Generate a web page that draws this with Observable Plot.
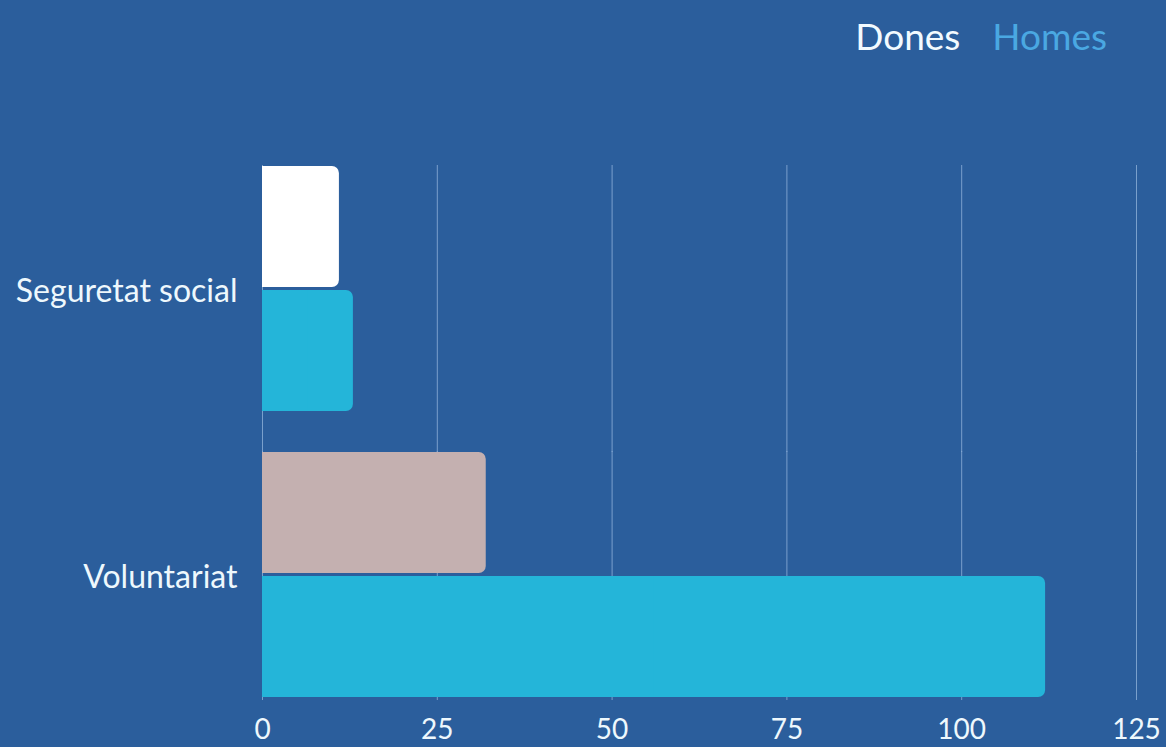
<!DOCTYPE html>
<html><head><meta charset="utf-8">
<script src="https://cdn.jsdelivr.net/npm/d3@7"></script>
<script src="https://cdn.jsdelivr.net/npm/@observablehq/plot@0.6"></script>
<style>
body{margin:0;background:#2b5e9c;width:1166px;height:747px;overflow:hidden;font-family:Lato,sans-serif}
#legend{height:70px;display:flex;justify-content:flex-end;align-items:center;gap:32px;padding-right:59px;font-size:37px;box-sizing:border-box}
#chart svg{display:block}
</style></head><body>
<div id="legend"><span style="color:#f2faff">Dones</span><span style="color:#4aa8e2">Homes</span></div>
<div id="chart"></div>
<script>
const categories = ["Seguretat social", "Voluntariat"];
const genders = ["Dones", "Homes"];
const dones = [11, 32];
const homes = [13, 112];
const xTicks = [0, 25, 50, 75, 100, 125];

const data = categories.flatMap((c, i) => [
  {category: c, gender: "Dones", value: dones[i]},
  {category: c, gender: "Homes", value: homes[i]}
]);
const fillOf = d => d.gender === "Homes" ? "#24b5d9" : (d.category === "Voluntariat" ? "#c4b0b0" : "#ffffff");

const plotTop = 95, plotBottom = 50, svgH = 677, fyPad = 0.14;
const range = svgH - plotTop - plotBottom;
const step = range / (categories.length - fyPad);
const gapPx = step * fyPad;

const gridFirst = xTicks.map(t => ({t, c: categories[0]}));
const gridRest = categories.slice(1).flatMap(c => xTicks.map(t => ({t, c})));

const chart = Plot.plot({
  width: 1166,
  height: svgH,
  marginLeft: 262,
  marginRight: 30,
  marginTop: plotTop,
  marginBottom: plotBottom,
  style: {background: "transparent", color: "#eef8fd", fontFamily: "Lato, sans-serif", fontSize: "27px"},
  x: {domain: [0, 125], ticks: xTicks, label: null},
  fy: {domain: categories, paddingInner: fyPad, paddingOuter: 0, label: null},
  y: {domain: genders, paddingInner: 0.025, paddingOuter: 0, axis: null},
  marks: [
    Plot.ruleX(gridFirst, {x: "t", fy: "c", stroke: "#8fb0d8", strokeOpacity: 0.8, insetBottom: -gapPx - 1}),
    Plot.ruleX(gridRest, {x: "t", fy: "c", stroke: "#8fb0d8", strokeOpacity: 0.8, insetBottom: -3}),
    Plot.barX(data, {fy: "category", y: "gender", x: "value", fill: fillOf, rx: 7}),
    Plot.barX(data, {fy: "category", y: "gender", x1: 0, x2: d => d.value / 2, fill: fillOf}),
    Plot.axisX({ticks: xTicks, tickSize: 0, tickPadding: 22, fontSize: 28, label: null}),
    Plot.axisFy({anchor: "left", tickSize: 0, tickPadding: 25, fontSize: 32, dy: 3, label: null})
  ]
});
document.getElementById("chart").appendChild(chart);
</script>
</body></html>
